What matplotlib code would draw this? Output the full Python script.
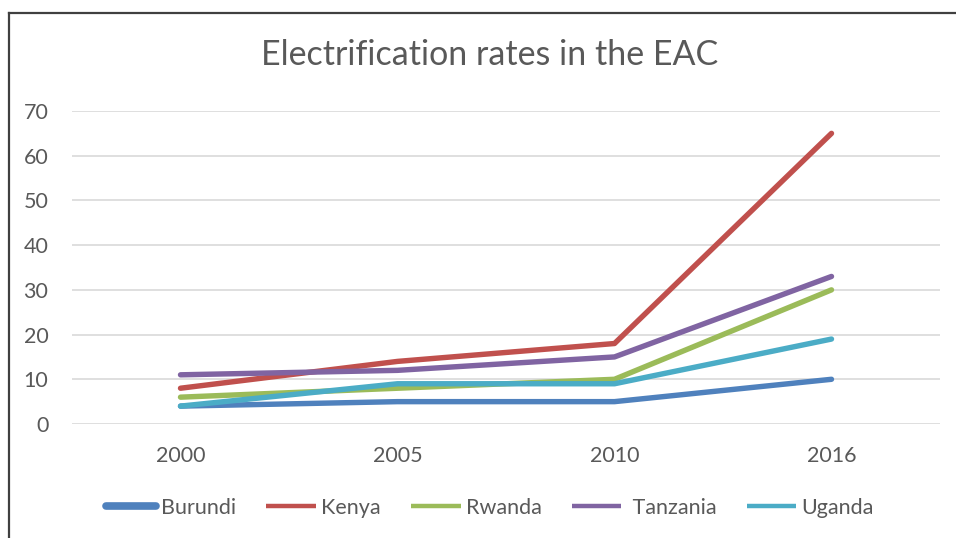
import matplotlib
matplotlib.use("Agg")
import matplotlib.pyplot as plt
from matplotlib.lines import Line2D

years = ["2000", "2005", "2010", "2016"]
countries = ["Burundi", "Kenya", "Rwanda", "Tanzania", "Uganda"]
burundi = [4, 5, 5, 10]
kenya = [8, 14, 18, 65]
rwanda = [6, 8, 10, 30]
tanzania = [11, 12, 15, 33]
uganda = [4, 9, 9, 19]
yticks = [0, 10, 20, 30, 40, 50, 60, 70]

series = [burundi, kenya, rwanda, tanzania, uganda]
colors = ["#4F81BD", "#C0504D", "#9BBB59", "#8064A2", "#4BACC6"]

plt.rcParams['font.family'] = ['Lato', 'DejaVu Sans']
fig = plt.figure(figsize=(9.56, 5.38), dpi=100)
ax = fig.add_axes([72/956, 1-424/538, (940-72)/956, (424-111)/538])

x = list(range(len(years)))
for vals, c in zip(series, colors):
    ax.plot(x, vals, color=c, lw=3.9, solid_capstyle='round', solid_joinstyle='round')

ax.set_xlim(-0.5, 3.5)
ax.set_ylim(0, 70)
ax.set_yticks(yticks)
ax.set_xticks(x)
ax.set_xticklabels(years)
for s in ax.spines.values():
    s.set_visible(False)
ax.grid(axis='y', color='#D9D9D9', lw=1.2)
ax.set_axisbelow(True)
ax.tick_params(axis='both', length=0, labelsize=15.5, colors='#595959')
ax.tick_params(axis='y', pad=17)
ax.tick_params(axis='x', pad=16)
for lab in ax.get_yticklabels():
    lab.set_horizontalalignment('right')

fig.text(490/956, 1-55/538, "Electrification rates in the EAC", ha='center', va='center',
         fontsize=24.5, color='#595959')

handles = []
for i, (name, c) in enumerate(zip(countries, colors)):
    handles.append(Line2D([], [], color=c, lw=5.5 if i == 0 else 3.2,
                          solid_capstyle='round' if i == 0 else 'butt'))
labels = ["Burundi", "Kenya", "Rwanda", " Tanzania", "Uganda"]
leg = fig.legend(handles, labels, loc='center', bbox_to_anchor=(490/956, 1-508/538), ncol=5,
                 frameon=False, fontsize=15.5, handlelength=2.3, handletextpad=0.25,
                 columnspacing=1.4, labelcolor='#595959')

# outer frame (left and top edges)
fig.add_artist(Line2D([9/956, 9/956], [0, 1-13/538], color='#404040', lw=1.6, transform=fig.transFigure))
fig.add_artist(Line2D([9/956, 1], [1-13/538, 1-13/538], color='#404040', lw=1.6, transform=fig.transFigure))

fig.savefig("out.png", dpi=100)
